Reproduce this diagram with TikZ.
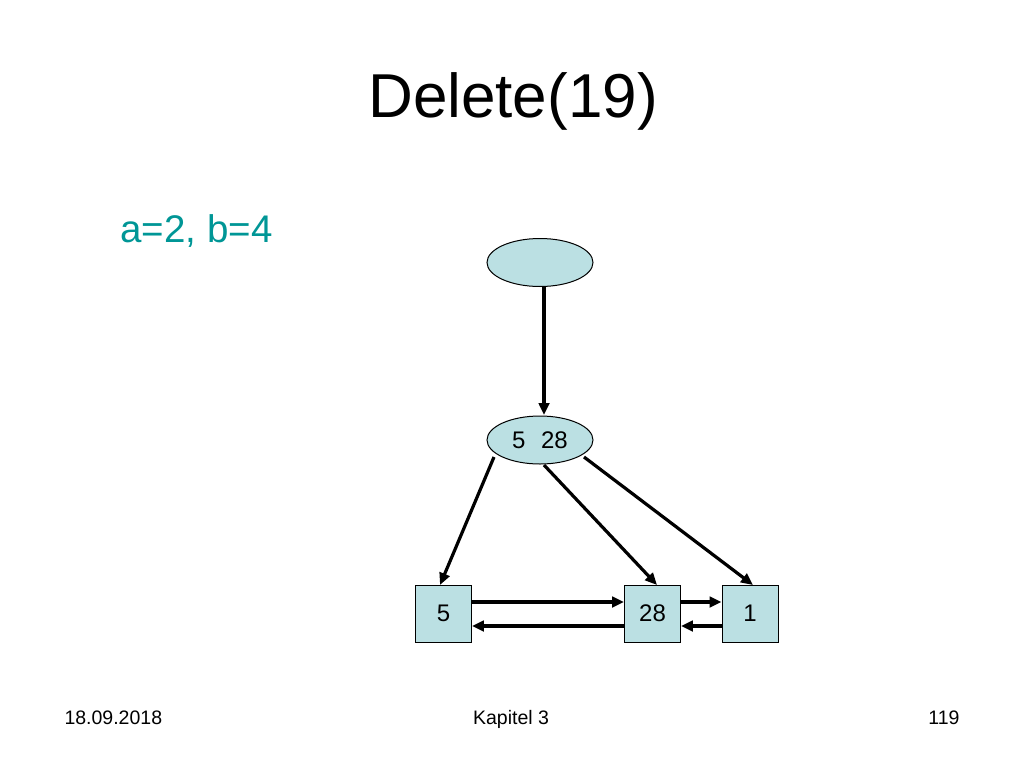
\documentclass[tikz,border=0pt]{standalone}
\usepackage{fontspec}
\setmainfont{Liberation Sans}
\usetikzlibrary{shapes.geometric,arrows.meta}
\definecolor{nodefill}{RGB}{187,224,227}
\definecolor{teal}{RGB}{0,150,150}
\begin{document}
\begin{tikzpicture}[x=1pt,y=-1pt,
  ell/.style={ellipse,draw=black,line width=1pt,fill=nodefill,minimum width=106pt,minimum height=48pt,inner sep=0pt,font=\fontsize{24}{28}\selectfont},
  leaf/.style={rectangle,draw=black,line width=0.9pt,fill=nodefill,minimum width=56pt,minimum height=57pt,inner sep=0pt,font=\fontsize{24}{28}\selectfont},
  arr/.style={-{Triangle[length=12pt,width=10.5pt]},line width=3.2pt},
  foot/.style={font=\fontsize{19.5}{23}\selectfont}]
\useasboundingbox (0,0) rectangle (1024,768);
\node[font=\fontsize{62}{72}\selectfont,anchor=base] (title) at (513,117) {Delete(19)};
\node[font=\fontsize{38.5}{44}\selectfont,text=teal,anchor=base west] (ab) at (117,242) {a=2, b=4};
\node[ell] (root) at (540,262.5) {};
\node[ell] (mid) at (540,440) {5\hspace{0.65em}28};
\node[leaf] (b5) at (443.5,613.5) {5};
\node[leaf] (b28) at (652.5,613.5) {28};
\node[leaf] (b1) at (750,613.5) {1};
\coordinate (r1) at (544,287);
\coordinate (r2) at (544,415);
\draw[arr] (r1) -- (r2);
\coordinate (m1) at (494,457);
\coordinate (m2) at (544,465);
\coordinate (m3) at (584,457);
\coordinate (t5) at (440,585);
\coordinate (t28) at (657,585);
\coordinate (t1) at (753,585);
\draw[arr] (m1) -- (t5);
\draw[arr] (m2) -- (t28);
\draw[arr] (m3) -- (t1);
\draw[arr] (b5.east |- 0,602) -- (b28.west |- 0,602);
\draw[arr] (b28.west |- 0,626) -- (b5.east |- 0,626);
\draw[arr] (b28.east |- 0,602) -- (b1.west |- 0,602);
\draw[arr] (b1.west |- 0,626) -- (b28.east |- 0,626);
\node[foot,anchor=base west] (date) at (61,724) {18.09.2018};
\node[foot,anchor=base] (kap) at (511,724) {Kapitel 3};
\node[foot,anchor=base east] (page) at (963,724) {119};
\end{tikzpicture}
\end{document}
